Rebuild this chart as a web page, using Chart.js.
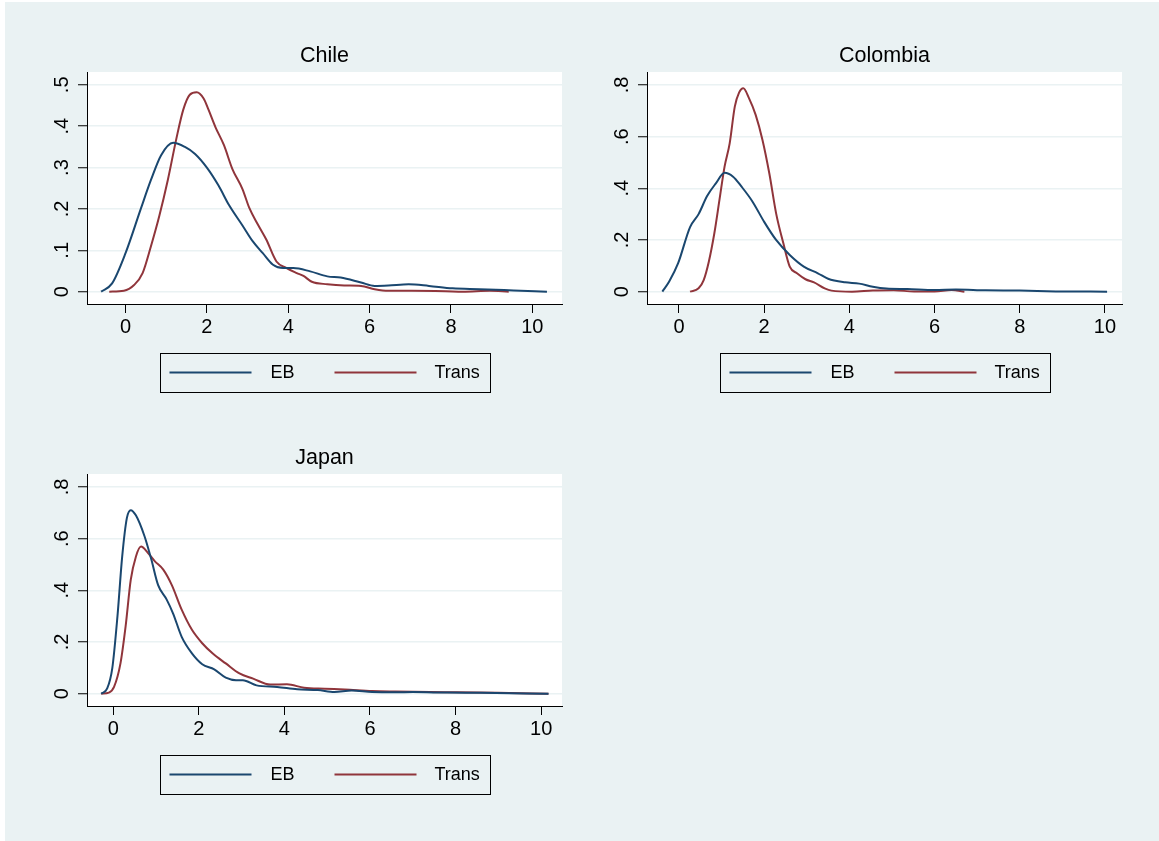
<!DOCTYPE html>
<html>
<head>
<meta charset="utf-8">
<script src="https://cdn.jsdelivr.net/npm/chart.js@4/dist/chart.umd.min.js"></script>
<style>
html,body{margin:0;padding:0;background:#ffffff;width:1159px;height:841px;overflow:hidden;}
#bg{position:absolute;left:5px;top:2px;right:0;bottom:0;background:#eaf2f3;}
canvas{position:absolute;}
</style>
</head>
<body>
<div id="bg"></div>
<canvas id="chile" width="560" height="390" style="left:20px;top:20px"></canvas>
<canvas id="colombia" width="560" height="390" style="left:580px;top:20px"></canvas>
<canvas id="japan" width="560" height="390" style="left:20px;top:422px"></canvas>
<script>
// ---- data ----
const seriesNames = ['EB', 'Trans'];
const xTicks = [0, 2, 4, 6, 8, 10];
const xLabels = ['0', '2', '4', '6', '8', '10'];

const chileYTicks = [0, 0.1, 0.2, 0.3, 0.4, 0.5];
const chileYLabels = ['0', '.1', '.2', '.3', '.4', '.5'];
const colombiaYTicks = [0, 0.2, 0.4, 0.6, 0.8];
const colombiaYLabels = ['0', '.2', '.4', '.6', '.8'];
const japanYTicks = [0, 0.2, 0.4, 0.6, 0.8];
const japanYLabels = ['0', '.2', '.4', '.6', '.8'];

const chileEBx = [-0.6,-0.33,0,0.375,0.625,0.875,1.17,1.46,1.71,2.0,2.29,2.54,2.875,3.125,3.375,3.625,3.875,4.125,4.54,4.96,5.29,5.79,6.125,6.46,6.96,7.46,8.04,8.7,9.54,10.36];
const chileEBy = [0,0.02,0.093,0.2,0.27,0.33,0.36,0.35,0.333,0.30,0.256,0.21,0.16,0.122,0.093,0.065,0.057,0.057,0.049,0.037,0.034,0.022,0.014,0.015,0.018,0.014,0.008,0.006,0.003,0];
const chileTrx = [-0.4,-0.04,0.21,0.42,0.625,0.83,1.04,1.25,1.42,1.58,1.75,1.92,2.04,2.21,2.42,2.625,2.875,3.04,3.25,3.46,3.71,3.96,4.21,4.375,4.58,4.96,5.375,5.79,6.125,6.46,7.04,7.875,8.29,8.96,9.42];
const chileTry = [0,0.002,0.016,0.045,0.11,0.183,0.27,0.37,0.44,0.476,0.482,0.467,0.44,0.398,0.354,0.297,0.248,0.203,0.163,0.126,0.073,0.057,0.045,0.038,0.024,0.018,0.015,0.014,0.006,0.002,0.002,0.001,0,0.002,0];

const colombiaEBx = [-0.39,-0.23,-0.02,0.26,0.46,0.66,0.87,1.07,1.27,1.47,1.72,2.0,2.28,2.6,2.93,3.26,3.5,3.9,4.23,4.55,4.87,5.36,6.0,6.5,7.2,8.0,8.85,10.05];
const colombiaEBy = [0,0.039,0.11,0.25,0.30,0.37,0.42,0.46,0.445,0.406,0.35,0.27,0.2,0.142,0.097,0.071,0.05,0.036,0.031,0.019,0.012,0.01,0.006,0.008,0.005,0.004,0.001,0];
const colombiaTrx = [0.26,0.46,0.58,0.7,0.83,0.95,1.07,1.19,1.31,1.41,1.51,1.64,1.8,1.96,2.12,2.28,2.45,2.6,2.77,2.97,3.17,3.42,3.58,4.06,4.55,5.04,5.52,6.0,6.4,6.7];
const colombiaTry = [0,0.013,0.045,0.116,0.226,0.355,0.484,0.574,0.716,0.77,0.787,0.75,0.684,0.587,0.458,0.303,0.187,0.097,0.071,0.048,0.036,0.013,0.004,0,0.004,0.005,0.001,0.001,0.006,0];

const japanEBx = [-0.28,-0.14,-0.02,0.1,0.21,0.32,0.41,0.53,0.73,0.89,1.05,1.25,1.4,1.6,1.84,2.08,2.36,2.63,2.87,3.03,3.35,3.83,4.3,4.78,5.17,5.57,6.05,6.6,7.0,7.8,8.59,10.17];
const japanEBy = [0,0.02,0.10,0.30,0.53,0.68,0.71,0.69,0.61,0.52,0.42,0.364,0.31,0.22,0.156,0.114,0.094,0.062,0.052,0.052,0.032,0.026,0.017,0.014,0.006,0.012,0.006,0.005,0.006,0.004,0.003,0];
const japanTrx = [-0.28,-0.1,0.02,0.17,0.29,0.41,0.53,0.65,0.81,0.97,1.17,1.37,1.6,1.84,2.08,2.32,2.63,2.95,3.27,3.67,4.06,4.46,4.94,5.41,6.05,6.6,7.4,8.03,8.98,10.17];
const japanTry = [0,0.004,0.026,0.117,0.26,0.44,0.53,0.569,0.545,0.513,0.48,0.42,0.325,0.247,0.195,0.156,0.117,0.078,0.058,0.035,0.036,0.023,0.019,0.016,0.01,0.008,0.006,0.005,0.003,0];

// ---- styling ----
const FONT = '"Liberation Sans", Arial, Helvetica, sans-serif';
const BLUE = '#1a476f';
const RED = '#90353b';
const GRID = '#eaf2f3';

function pairs(xs, ys) { return xs.map((x, i) => ({ x: x, y: ys[i] })); }

const decor = {
  id: 'decor',
  beforeDraw(chart) {
    const a = chart.chartArea, ctx = chart.ctx;
    ctx.save();
    ctx.fillStyle = '#ffffff';
    ctx.fillRect(a.left, a.top, a.right - a.left, a.bottom - a.top);
    ctx.restore();
  },
  afterDraw(chart) {
    const a = chart.chartArea, ctx = chart.ctx;
    const opt = chart.options.plugins.decor;
    const cx = (a.left + a.right) / 2;
    ctx.save();
    // title
    ctx.fillStyle = '#000';
    ctx.font = '21.5px ' + FONT;
    ctx.textAlign = 'center';
    ctx.textBaseline = 'middle';
    ctx.fillText(opt.title, cx, a.top - 15.5);
    // legend box
    const L = Math.round(cx - 165) + 0.5;
    const T = Math.round(a.bottom + 49) + 0.5;
    ctx.strokeStyle = '#000';
    ctx.lineWidth = 1;
    ctx.strokeRect(L, T, 330, 39);
    const ly = T + 19;
    const ds = chart.data.datasets;
    const items = [
      { x0: 9, x1: 91, tx: 110 },
      { x0: 174, x1: 256, tx: 274 }
    ];
    ctx.font = '18px ' + FONT;
    ctx.textAlign = 'left';
    items.forEach((it, i) => {
      ctx.strokeStyle = ds[i].borderColor;
      ctx.lineWidth = 2;
      ctx.beginPath();
      ctx.moveTo(L + it.x0, ly);
      ctx.lineTo(L + it.x1, ly);
      ctx.stroke();
      ctx.fillStyle = '#000';
      ctx.fillText(ds[i].label, L + it.tx, ly + 1);
    });
    ctx.restore();
  }
};

function makeChart(id, title, ebx, eby, trx, try_, yTicks, yLabels, xMin, xMax, yMin, yMax) {
  return new Chart(document.getElementById(id), {
    type: 'line',
    data: {
      datasets: [
        { label: seriesNames[0], data: pairs(ebx, eby), borderColor: BLUE, borderWidth: 2,
          pointRadius: 0, cubicInterpolationMode: 'monotone', fill: false },
        { label: seriesNames[1], data: pairs(trx, try_), borderColor: RED, borderWidth: 2,
          pointRadius: 0, cubicInterpolationMode: 'monotone', fill: false }
      ]
    },
    options: {
      responsive: false,
      animation: false,
      devicePixelRatio: 1,
      layout: { padding: { left: 0, top: 52, right: 18, bottom: 61 } },
      plugins: {
        legend: { display: false },
        tooltip: { enabled: false },
        decor: { title: title }
      },
      scales: {
        x: {
          type: 'linear', min: xMin, max: xMax,
          afterFit(s) { s.height = 45; },
          afterBuildTicks(s) { s.ticks = xTicks.map(v => ({ value: v })); },
          ticks: { autoSkip: false, maxRotation: 0, minRotation: 0, padding: 2, color: '#000',
                   font: { family: FONT, size: 20 }, callback: (v, i) => xLabels[i] },
          grid: { drawOnChartArea: false, tickColor: '#000', tickLength: 9, tickWidth: 1 },
          border: { color: '#000', width: 1 }
        },
        y: {
          type: 'linear', min: yMin, max: yMax,
          afterFit(s) { s.width = 67; },
          afterBuildTicks(s) { s.ticks = yTicks.map(v => ({ value: v })); },
          ticks: { autoSkip: false, minRotation: 90, maxRotation: 90, crossAlign: 'center', padding: 7,
                   color: '#000', font: { family: FONT, size: 20 }, callback: (v, i) => yLabels[i] },
          grid: { color: GRID, lineWidth: 1.5, tickColor: '#000', tickLength: 9, tickWidth: 1 },
          border: { color: '#000', width: 1 }
        }
      }
    },
    plugins: [decor]
  });
}

makeChart('chile', 'Chile', chileEBx, chileEBy, chileTrx, chileTry, chileYTicks, chileYLabels,
          -0.947, 10.73, -0.0298, 0.531);
makeChart('colombia', 'Colombia', colombiaEBx, colombiaEBy, colombiaTrx, colombiaTry, colombiaYTicks, colombiaYLabels,
          -0.751, 10.40, -0.0478, 0.85);
makeChart('japan', 'Japan', japanEBx, japanEBy, japanTrx, japanTry, japanYTicks, japanYLabels,
          -0.612, 10.486, -0.0478, 0.85);
</script>
</body>
</html>
